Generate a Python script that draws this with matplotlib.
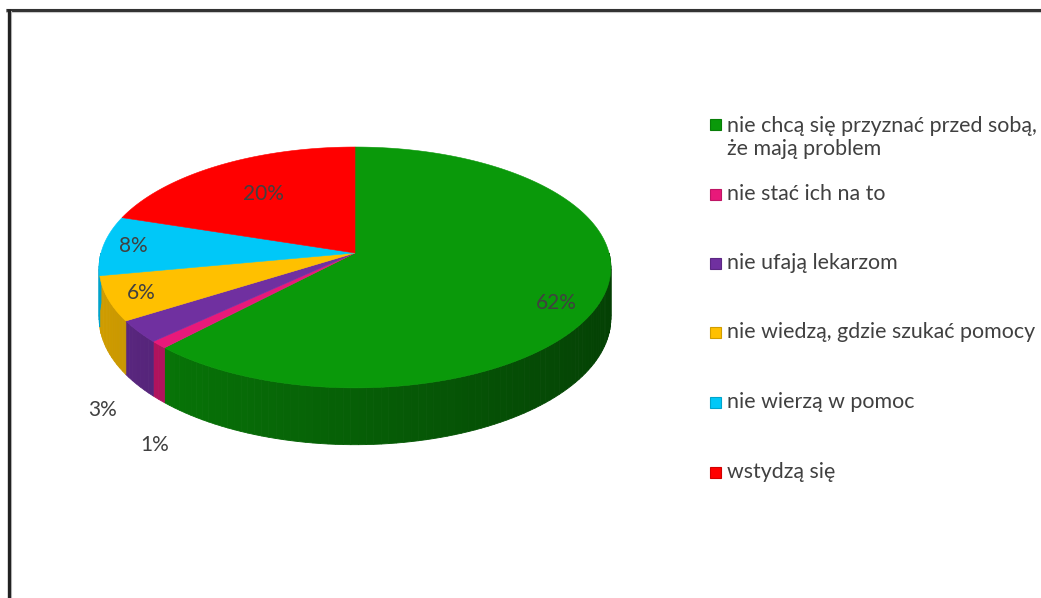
import numpy as np
import matplotlib.pyplot as plt
from matplotlib.patches import Polygon, Rectangle
from matplotlib.colors import to_rgb

plt.rcParams['font.family'] = ['Lato', 'DejaVu Sans']

# answers and their shares (percent), clockwise from 12 o'clock
labels = [
    'nie chcą się przyznać przed sobą,\nże mają problem',
    'nie stać ich na to',
    'nie ufają lekarzom',
    'nie wiedzą, gdzie szukać pomocy',
    'nie wierzą w pomoc',
    'wstydzą się',
]
values = [62, 1, 3, 6, 8, 20]
pct_labels = ['62%', '1%', '3%', '6%', '8%', '20%']
colors = ['#0A990A', '#E8197A', '#7030A0', '#FFC000', '#00C8F8', '#FF0000']

# label placement: radius as fraction of pie, extra drop in px (outside labels)
label_radius = [0.82, 1.02, 1.15, 0.87, 0.88, 0.65]
label_drop = [12, 90, 60, 0, 0, 0]

W, H = 1041, 598
fig = plt.figure(figsize=(W / 100, H / 100), dpi=100)
ax = fig.add_axes([0, 0, 1, 1])
ax.set_xlim(0, W)
ax.set_ylim(H, 0)
ax.axis('off')

# pie geometry in pixels
cx, cy = 355, 253
a, b = 254, 118.7
k = 0.12          # perspective strength
depth = 50


def project(theta, r=1.0, drop=0.0):
    t = np.radians(theta)
    s = -r * np.sin(t)
    w = 1 - k * s
    return cx + a * r * np.cos(t) / w, cy + (b * s + drop) / w


def shade(color, theta):
    f = 0.62 - 0.2 * np.cos(np.radians(theta))
    return tuple(np.clip(np.array(to_rgb(color)) * f, 0, 1))


total = float(sum(values))
starts, ends = [], []
ang = 90.0
for v in values:
    starts.append(ang)
    ang -= 360.0 * v / total
    ends.append(ang)

# outer side wall, only the front half (180..360 deg) is visible
for st, en, col in zip(starts, ends, colors):
    lo, hi = en % 360, st % 360
    if hi <= lo:
        hi += 360
    lo_v, hi_v = max(lo, 180), min(hi, 360)
    if hi_v <= lo_v:
        continue
    n = max(2, int((hi_v - lo_v) / 1.5) + 1)
    th = np.linspace(lo_v, hi_v, n)
    for t0, t1 in zip(th[:-1], th[1:]):
        x0, y0 = project(t0)
        x1, y1 = project(t1)
        x2, y2 = project(t1, drop=depth)
        x3, y3 = project(t0, drop=depth)
        c = shade(col, 0.5 * (t0 + t1))
        ax.add_patch(Polygon([(x0, y0), (x1, y1), (x2, y2), (x3, y3)],
                             closed=True, facecolor=c, edgecolor=c, lw=0.6))

# top faces
for st, en, col in zip(starts, ends, colors):
    th = np.linspace(st, en, max(3, int(abs(st - en) / 1.0) + 1))
    xs, ys = project(th)
    pts = [(cx, cy)] + list(zip(xs, ys))
    ax.add_patch(Polygon(pts, closed=True, facecolor=col, edgecolor=col, lw=0.4))

# percentage labels
for st, en, txt, r, d in zip(starts, ends, pct_labels, label_radius, label_drop):
    mid = 0.5 * (st + en)
    x, y = project(mid, r=r, drop=d)
    ax.text(x, y, txt, fontsize=15, color='#404040', ha='center', va='center')

# legend
leg_x = 710
leg_y = [137.5, 194, 263, 332, 402, 472]
for yy, lab, col in zip(leg_y, labels, colors):
    row = yy if '\n' not in lab else yy - 13.5
    ax.add_patch(Rectangle((leg_x, row - 5.5), 11, 11, facecolor=col,
                           edgecolor=shade(col, 180), lw=0.8))
    ax.text(leg_x + 17, yy, lab, fontsize=15.4, color='#404040',
            ha='left', va='center', linespacing=1.2)

# chart frame
ax.plot([6, W], [11, 11], color='#cfcfcf', lw=3, solid_capstyle='butt')
ax.plot([6, W], [10, 10], color='#333333', lw=2.2, solid_capstyle='butt')
ax.plot([10, 10], [11, H], color='#cfcfcf', lw=3, solid_capstyle='butt')
ax.plot([9, 9], [9, H], color='#222222', lw=2.4, solid_capstyle='butt')

fig.savefig('out.png', dpi=100, facecolor='white')
